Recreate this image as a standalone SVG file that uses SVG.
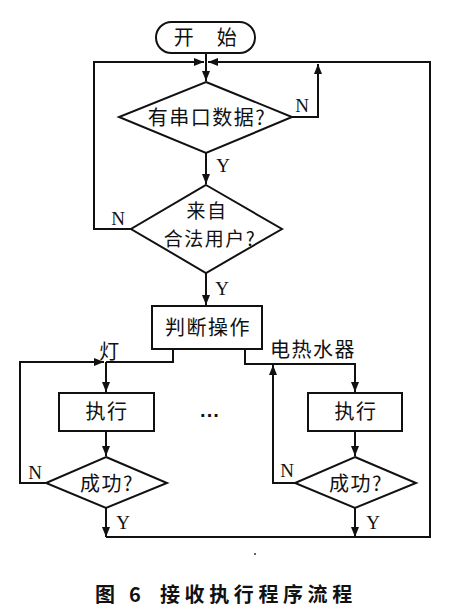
<svg xmlns="http://www.w3.org/2000/svg" width="454" height="611" viewBox="0 0 454 611">
<defs>
<marker id="arr" markerWidth="10" markerHeight="8" refX="10" refY="4" orient="auto" markerUnits="userSpaceOnUse">
<path d="M0,0 L10,4 L0,8 Z" fill="#111"/>
</marker>
<style>
.shape{fill:#fff;stroke:#111;stroke-width:2}
.line{fill:none;stroke:#111;stroke-width:2}
.cn{font-family:"Noto Sans CJK SC","Liberation Sans",sans-serif;font-size:20px;fill:#111;letter-spacing:1.5px}
.lbl{font-family:"Liberation Serif",serif;font-size:19px;fill:#111}
.cap{font-family:"Noto Sans CJK SC","Liberation Sans",sans-serif;font-size:20px;font-weight:bold;fill:#111}
</style>
</defs>
<rect width="454" height="611" fill="#fff"/>
<g id="connectors">
<path class="line" d="M206,53 V81" marker-end="url(#arr)"/>
<path class="line" d="M131,229 H94 V62 H204" marker-end="url(#arr)"/>
<path class="line" d="M106,537 H430 V62 H208" marker-end="url(#arr)"/>
<path class="line" d="M292,117 H318 V64" marker-end="url(#arr)"/>
<path class="line" d="M206,153 V184" marker-end="url(#arr)"/>
<path class="line" d="M206,273 V305" marker-end="url(#arr)"/>
<path class="line" d="M173,349 V362 H106"/>
<path class="line" d="M46,483 H20 V362 H104" marker-end="url(#arr)"/>
<path class="line" d="M106,362 V392" marker-end="url(#arr)"/>
<path class="line" d="M106,431 V456" marker-end="url(#arr)"/>
<path class="line" d="M106,508 V537" marker-end="url(#arr)"/>
<path class="line" d="M245,349 V364 H355 V392" marker-end="url(#arr)"/>
<path class="line" d="M295,483 H273 V365" marker-end="url(#arr)"/>
<path class="line" d="M355,431 V456" marker-end="url(#arr)"/>
<path class="line" d="M355,508 V537" marker-end="url(#arr)"/>
<text class="lbl" x="302" y="112" text-anchor="middle">N</text>
<text class="lbl" x="223" y="172" text-anchor="middle">Y</text>
<text class="lbl" x="118" y="225" text-anchor="middle">N</text>
<text class="lbl" x="222" y="295" text-anchor="middle">Y</text>
<text class="cn" x="110" y="359" text-anchor="middle">灯</text>
<text class="cn" x="313" y="357" text-anchor="middle">电热水器</text>
<text class="lbl" x="35" y="479" text-anchor="middle">N</text>
<text class="lbl" x="123" y="529" text-anchor="middle">Y</text>
<text class="lbl" x="287" y="477" text-anchor="middle">N</text>
<text class="lbl" x="373" y="529" text-anchor="middle">Y</text>
</g>
<g id="start">
<rect class="shape" x="156" y="22" width="99" height="31" rx="15.5"/>
<text class="cn" x="206" y="45" text-anchor="middle">开　始</text>
</g>
<g id="has-data">
<polygon class="shape" points="206,82 292,117 206,153 119,117"/>
<text class="cn" x="207" y="125" text-anchor="middle">有串口数据?</text>
</g>
<g id="legal-user">
<polygon class="shape" points="206,185 282,229 206,273 131,229"/>
<text class="cn" x="207" y="218" text-anchor="middle" style="font-size:19px">来自</text>
<text class="cn" x="210" y="246" text-anchor="middle" style="font-size:19px">合法用户?</text>
</g>
<g id="judge">
<rect class="shape" x="152" y="306" width="110" height="43"/>
<text class="cn" x="208" y="335" text-anchor="middle">判断操作</text>
</g>
<g id="exec-lamp">
<rect class="shape" x="59" y="393" width="95" height="38"/>
<text class="cn" x="107" y="419" text-anchor="middle">执行</text>
</g>
<g id="ok-lamp">
<polygon class="shape" points="106,457 167,483 106,508 46,483"/>
<text class="cn" x="107" y="491" text-anchor="middle">成功?</text>
</g>
<g id="exec-heater">
<rect class="shape" x="308" y="393" width="94" height="38"/>
<text class="cn" x="356" y="419" text-anchor="middle">执行</text>
</g>
<g id="ok-heater">
<polygon class="shape" points="355,457 416,483 355,508 295,483"/>
<text class="cn" x="356" y="491" text-anchor="middle">成功?</text>
</g>
<g id="ellipsis">
<text x="210" y="422" text-anchor="middle" style="font-family:'Liberation Sans',sans-serif;font-size:20px;font-weight:bold;fill:#111">···</text>
</g>
<circle cx="255" cy="554" r="1" fill="#333"/>
<g id="caption">
<text class="cap" y="602"><tspan x="95">图</tspan><tspan x="129">6</tspan><tspan x="160" letter-spacing="4.6">接收执行程序流程</tspan></text>
</g>
</svg>
